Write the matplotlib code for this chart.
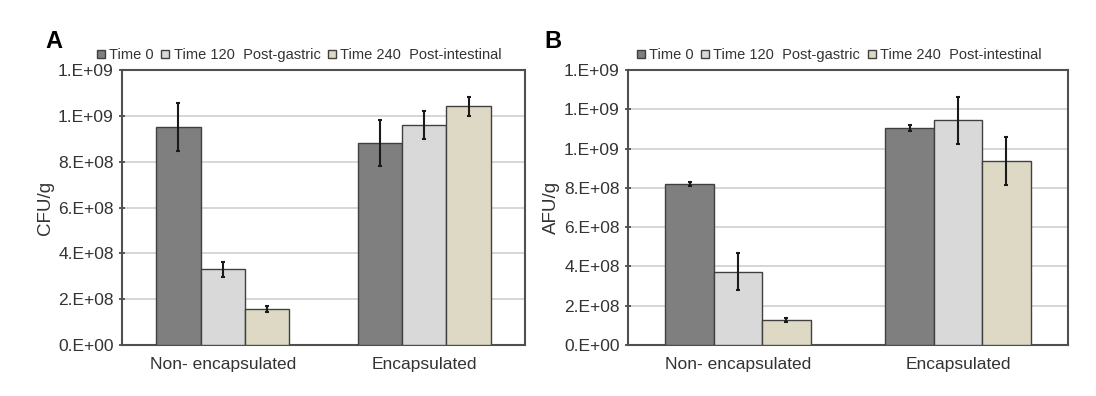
import numpy as np
import matplotlib.pyplot as plt
from matplotlib.ticker import FuncFormatter

plt.rcParams['font.family'] = ['Liberation Sans', 'DejaVu Sans']
plt.rcParams['text.color'] = '#333333'
plt.rcParams['xtick.labelcolor'] = '#333333'
plt.rcParams['ytick.labelcolor'] = '#333333'
plt.rcParams['axes.labelcolor'] = '#333333'

#%% data
groups = ['Non- encapsulated', 'Encapsulated']
series = ['Time 0', 'Time 120  Post-gastric', 'Time 240  Post-intestinal']
colors = ['#7f7f7f', '#d9d9d9', '#ddd9c4']

cfu = [[0.95e9, 0.882e9], [0.331e9, 0.961e9], [0.158e9, 1.042e9]]
cfu_err = [[0.105e9, 0.099e9], [0.033e9, 0.06e9], [0.014e9, 0.04e9]]

afu = [[0.82e9, 1.104e9], [0.374e9, 1.145e9], [0.128e9, 0.938e9]]
afu_err = [[0.01e9, 0.015e9], [0.096e9, 0.12e9], [0.012e9, 0.123e9]]

#%%
def excel_fmt(v, pos):
    if v == 0:
        return '0.E+00'
    e = int(np.floor(np.log10(abs(v))))
    m = int(round(v / 10**e))
    return '%d.E+%02d' % (m, e)

def panel(ax, vals, errs, ylab, ymax, letter, leg_x):
    x = np.arange(len(groups))
    w = 0.22
    for k in range(len(series)):
        ax.bar(x + (k - 1) * w, vals[k], w, color=colors[k], edgecolor='#404040',
               linewidth=1.0, label=series[k], zorder=3)
        ax.errorbar(x + (k - 1) * w, vals[k], yerr=errs[k], fmt='none',
                    ecolor='#1a1a1a', elinewidth=1.5, capsize=1.5, capthick=1.5, zorder=4)
    ax.set_xlim(-0.5, 1.5)
    ax.set_ylim(0, ymax)
    ax.set_yticks(np.arange(0, ymax + 1, 2e8))
    ax.yaxis.set_major_formatter(FuncFormatter(excel_fmt))
    ax.set_xticks(x)
    ax.set_xticklabels(groups, fontsize=12.5)
    ax.tick_params(axis='x', length=0, pad=9)
    ax.tick_params(axis='y', labelsize=12.5, length=4, width=1.2, color='#404040',
                   direction='inout', pad=4)
    ax.grid(axis='y', color='#d0d0d0', linewidth=1.2, zorder=0)
    for s in ax.spines.values():
        s.set_color('#505050')
        s.set_linewidth(1.5)
    ax.set_ylabel(ylab, fontsize=13.5, labelpad=3)
    ax.legend(loc='lower center', bbox_to_anchor=(leg_x, 1.0), ncol=3, frameon=False,
              fontsize=10.5, handlelength=0.55, handleheight=0.55, handletextpad=0.3,
              columnspacing=0.5, borderaxespad=0.15)
    ax.text(-0.19, 1.08, letter, transform=ax.transAxes, fontsize=17, fontweight='bold',
            color='black')

fig = plt.figure(figsize=(10.96, 3.96), dpi=100)
axA = fig.add_axes([0.1113, 0.1288, 0.3677, 0.694])
axB = fig.add_axes([0.573, 0.1288, 0.4015, 0.694])
panel(axA, cfu, cfu_err, 'CFU/g', 1.2e9, 'A', 0.44)
panel(axB, afu, afu_err, 'AFU/g', 1.4e9, 'B', 0.48)
fig.savefig('out.png', dpi=100)
